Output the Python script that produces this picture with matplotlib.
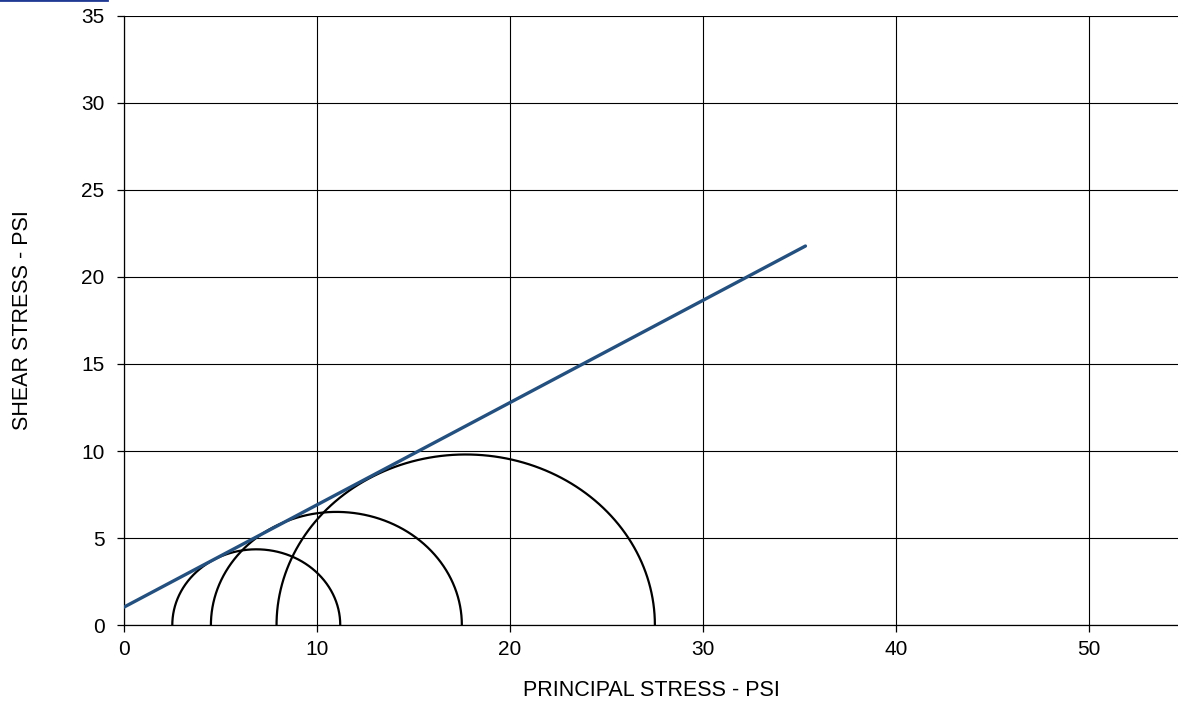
import numpy as np
import matplotlib.pyplot as plt

plt.rcParams['font.family'] = ['Liberation Sans', 'DejaVu Sans']

# Mohr circles: minor / major principal stress (psi)
sigma3 = [2.5, 4.5, 7.9]
sigma1 = [11.2, 17.5, 27.5]

# failure envelope end points
env_x = [0.0, 35.3]
env_y = [1.03, 21.78]

fig = plt.figure(figsize=(11.78, 7.04), dpi=100)
ax = fig.add_axes([0.1053, 0.1122, 0.8947, 0.8651])

theta = np.linspace(0, np.pi, 300)
for s3, s1 in zip(sigma3, sigma1):
    c = (s1 + s3) / 2
    r = (s1 - s3) / 2
    ax.plot(c + r * np.cos(theta), r * np.sin(theta), color='black', lw=1.6, zorder=3)

ax.plot(env_x, env_y, color='#24507f', lw=2.4, solid_capstyle='round', zorder=4)

ax.set_xlim(0, 54.6)
ax.set_ylim(0, 35)
ax.set_xticks(range(0, 60, 10))
ax.set_yticks(range(0, 40, 5))
ax.grid(True, color='black', lw=0.8)
ax.set_axisbelow(True)
for s in ['right', 'top']:
    ax.spines[s].set_visible(False)
ax.spines['left'].set_linewidth(0.9)
ax.spines['bottom'].set_linewidth(0.9)
ax.tick_params(direction='out', length=5, width=0.9, labelsize=15)
ax.tick_params(axis='y', pad=9)
ax.tick_params(axis='x', pad=6)

ax.set_xlabel('PRINCIPAL STRESS - PSI', fontsize=15.5, labelpad=15)
ax.set_ylabel('SHEAR STRESS - PSI', fontsize=15.5, labelpad=35)

# small blue marker strip at top-left corner
fig.add_artist(plt.Line2D([0, 0.091], [0.9995, 0.9995], color='#1f3a93', lw=2,
                          transform=fig.transFigure))

fig.savefig('out.png', dpi=100)
